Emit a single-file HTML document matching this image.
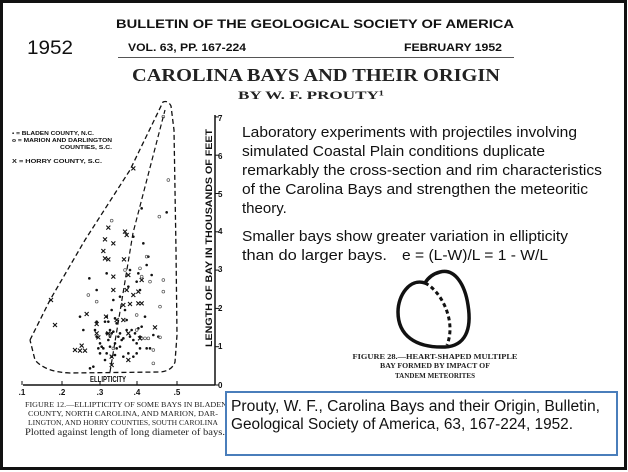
<!DOCTYPE html>
<html><head><meta charset="utf-8"><style>
html,body{margin:0;padding:0;background:#fff}
svg{display:block}
.a{font-family:"Liberation Sans",Arial,sans-serif;fill:#111}
.s{font-family:"Liberation Serif",serif;fill:#222}
</style></head><body>
<svg id="s" width="628" height="472" viewBox="0 0 628 472" xmlns="http://www.w3.org/2000/svg">
<rect x="0" y="0" width="628" height="472" fill="#fff"/>
<rect x="1.5" y="1.5" width="624" height="467" fill="none" stroke="#111" stroke-width="3"/>
<text class="a" x="27" y="54" font-size="19" textLength="46" lengthAdjust="spacingAndGlyphs">1952</text>
<text class="a" x="116" y="28" font-size="12" font-weight="bold" fill="#222" textLength="398" lengthAdjust="spacingAndGlyphs">BULLETIN OF THE GEOLOGICAL SOCIETY OF AMERICA</text>
<text class="a" x="128" y="51" font-size="11" font-weight="bold" fill="#222" textLength="118" lengthAdjust="spacingAndGlyphs">VOL. 63, PP. 167-224</text>
<text class="a" x="404" y="51" font-size="11" font-weight="bold" fill="#222" textLength="98" lengthAdjust="spacingAndGlyphs">FEBRUARY 1952</text>
<line x1="118" y1="57.5" x2="514" y2="57.5" stroke="#555" stroke-width="1"/>
<text class="s" x="132" y="81" font-size="18" font-weight="bold" fill="#111" textLength="368" lengthAdjust="spacingAndGlyphs">CAROLINA BAYS AND THEIR ORIGIN</text>
<text class="s" x="238" y="99" font-size="12" font-weight="bold" fill="#111" textLength="146" lengthAdjust="spacingAndGlyphs">BY W. F. PROUTY¹</text>

<g class="a" font-size="15">
<text x="242" y="137" textLength="335" lengthAdjust="spacingAndGlyphs">Laboratory experiments with projectiles involving</text>
<text x="242" y="156" textLength="303" lengthAdjust="spacingAndGlyphs">simulated Coastal Plain conditions duplicate</text>
<text x="242" y="175" textLength="360" lengthAdjust="spacingAndGlyphs">remarkably the cross-section and rim characteristics</text>
<text x="242" y="194" textLength="346" lengthAdjust="spacingAndGlyphs">of the Carolina Bays and strengthen the meteoritic</text>
<text x="242" y="213">theory.</text>
<text x="242" y="241" textLength="326" lengthAdjust="spacingAndGlyphs">Smaller bays show greater variation in ellipticity</text>
<text x="242" y="260" textLength="145" lengthAdjust="spacingAndGlyphs">than do larger bays.</text>
<text x="402" y="260" textLength="146" lengthAdjust="spacingAndGlyphs">e = (L-W)/L = 1 - W/L</text>
</g>

<path d="M425,283 C410,278 398,295 398,312 C398,335 415,348 445,347 C465,346 472,330 468,305 C465,285 455,268 440,272 C432,274 428,278 425,283 Z" fill="none" stroke="#111" stroke-width="3.5"/>
<path d="M425,283 C440,290 457,320 447,345" fill="none" stroke="#111" stroke-width="3" stroke-dasharray="4,3"/>
<g class="s" font-size="7" font-weight="bold" fill="#333" text-anchor="middle">
<text x="435" y="359" textLength="165" lengthAdjust="spacingAndGlyphs">FIGURE 28.—HEART-SHAPED MULTIPLE</text>
<text x="435" y="368" textLength="110" lengthAdjust="spacingAndGlyphs">BAY FORMED BY IMPACT OF</text>
<text x="435" y="378" textLength="80" lengthAdjust="spacingAndGlyphs">TANDEM METEORITES</text>
</g>

<g stroke="#111" fill="none">
<line x1="23" y1="385" x2="215" y2="385" stroke-width="1.5"/>
<line x1="215" y1="115" x2="215" y2="385" stroke-width="1.5"/>
<path d="M30,340 L50,300 L85,240 L130,170 L163,102 Q168,100 171,106 L174,130 L176,250 L177,335 L175,362 Q172,371 160,372 L70,373 Q45,372 35,360 L30,340" stroke-width="1.3" stroke-dasharray="5,3"/>
<path d="M110,372 L133,233 L165,110" stroke-width="1.2" stroke-dasharray="5,3"/>
</g>
<g id="ticks" stroke="#111" stroke-width="1"></g>
<g class="a" font-size="8" font-weight="bold" fill="#222">
<text x="22" y="395" text-anchor="middle">.1</text>
<text x="62" y="395" text-anchor="middle">.2</text>
<text x="100" y="395" text-anchor="middle">.3</text>
<text x="137" y="395" text-anchor="middle">.4</text>
<text x="177" y="395" text-anchor="middle">.5</text>
<text x="90" y="382" font-size="8.5" textLength="36" lengthAdjust="spacingAndGlyphs">ELLIPTICITY</text>
<text x="218" y="388">0</text><text x="218" y="349">1</text><text x="218" y="311">2</text><text x="218" y="272">3</text><text x="218" y="234">4</text><text x="218" y="197">5</text><text x="218" y="159">6</text><text x="218" y="121">7</text>
<text transform="translate(212,347) rotate(-90)" font-size="9" textLength="218" lengthAdjust="spacingAndGlyphs">LENGTH OF BAY IN THOUSANDS OF FEET</text>
</g>
<g class="a" font-size="5.5" font-weight="bold" fill="#333">
<text x="12" y="135" textLength="82" lengthAdjust="spacingAndGlyphs">• = BLADEN COUNTY, N.C.</text>
<text x="12" y="142" textLength="100" lengthAdjust="spacingAndGlyphs">o = MARION AND DARLINGTON</text>
<text x="60" y="149" textLength="52" lengthAdjust="spacingAndGlyphs">COUNTIES, S.C.</text>
<text x="12" y="163" textLength="90" lengthAdjust="spacingAndGlyphs">X = HORRY COUNTY, S.C.</text>
</g>
<g id="pts"></g>
<g class="s" font-size="7.5" fill="#333">
<text x="25" y="407" textLength="202" lengthAdjust="spacingAndGlyphs">FIGURE 12.—ELLIPTICITY OF SOME BAYS IN BLADEN</text>
<text x="28" y="416" textLength="190" lengthAdjust="spacingAndGlyphs">COUNTY, NORTH CAROLINA, AND MARION, DAR-</text>
<text x="28" y="425" textLength="190" lengthAdjust="spacingAndGlyphs">LINGTON, AND HORRY COUNTIES, SOUTH CAROLINA</text>
<text x="25" y="435" font-size="9" textLength="200" lengthAdjust="spacingAndGlyphs">Plotted against length of long diameter of bays.</text>
</g>

<rect x="226" y="392" width="391" height="63" fill="#fff" stroke="#4a7ebb" stroke-width="2"/>
<text class="a" x="231" y="411" font-size="15.5" textLength="369" lengthAdjust="spacingAndGlyphs">Prouty, W. F., Carolina Bays and their Origin, Bulletin,</text>
<text class="a" x="231" y="429" font-size="15.5" textLength="342" lengthAdjust="spacingAndGlyphs">Geological Society of America, 63, 167-224, 1952.</text>
</svg>
<script>
var NS="http://www.w3.org/2000/svg",g=document.getElementById("pts"),t=document.getElementById("ticks");
function el(n,a,p){var e=document.createElementNS(NS,n);for(var k in a)e.setAttribute(k,a[k]);p.appendChild(e);}
[22,62,100,137,177].forEach(function(x){el("line",{x1:x,y1:385,x2:x,y2:381},t);});
for(var i=0;i<=7;i++){var y=385-i*38.3;el("line",{x1:215,y1:y,x2:219,y2:y},t);}
var D=[268,535,290,570,240,650,250,690,285,690,290,710,300,730,295,745,305,740,320,700,325,720,330,710,335,700,340,695,330,690,315,665,320,650,325,665,335,630,345,655,350,670,360,700,370,715,380,690,390,710,400,720,405,700,415,685,420,710,425,680,435,650,450,745,440,745,460,705,475,710,380,660,375,630,385,560,390,510,410,545,420,570,415,520,440,495,445,470,455,525,430,430,400,410,425,325,500,337,320,520,340,600,330,740,320,760,315,780,335,770,345,765,360,740,370,770,385,760,400,770,410,760,420,745,280,800,270,805,300,760,310,745,355,710,365,720,345,730,350,745,395,690,410,730,290,665,360,590];
var C=[490,50,505,240,478,350,335,362,290,605,265,585,440,470,450,545,425,530,420,505,490,540,490,575,480,620,410,645,410,690,425,715,435,715,445,715,460,750,480,712,460,790,375,510,330,705,340,745];
var X=[400,205,325,383,375,395,380,405,315,418,340,430,310,453,315,475,325,478,372,478,340,530,385,525,340,570,380,570,415,575,425,540,415,610,370,615,390,612,318,650,350,660,370,660,290,672,260,642,290,700,295,712,165,675,153,600,225,750,240,752,245,737,255,752,385,700,420,715,465,682,385,780,335,795,335,770,325,700,400,585,425,610];
for(i=0;i<D.length;i+=2)el("circle",{cx:D[i]/3,cy:100+D[i+1]/3,r:1.3,fill:"#111"},g);
for(i=0;i<C.length;i+=2)el("circle",{cx:C[i]/3,cy:100+C[i+1]/3,r:1.4,fill:"none",stroke:"#555","stroke-width":0.7},g);
for(i=0;i<X.length;i+=2){var x=X[i]/3,y=100+X[i+1]/3;el("path",{d:"M"+(x-2)+","+(y-2)+"L"+(x+2)+","+(y+2)+"M"+(x+2)+","+(y-2)+"L"+(x-2)+","+(y+2),stroke:"#111","stroke-width":1.1},g);}
</script>
</body></html>
